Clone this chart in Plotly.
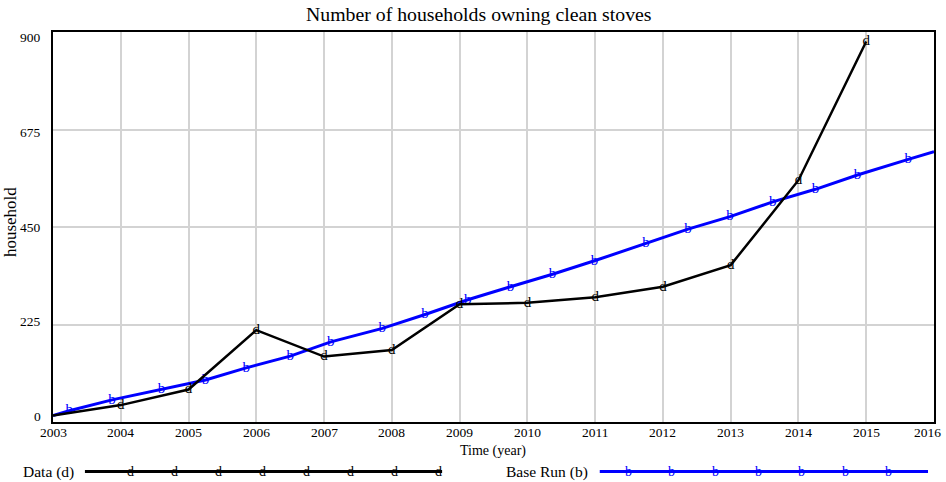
import plotly.graph_objects as go

# ---- data ----
data_years = [2003, 2004, 2005, 2006, 2007, 2008, 2009, 2010, 2011, 2012, 2013, 2014, 2015]
data_values = [15, 39, 75, 212, 151, 166, 272, 275, 288, 312, 362, 558, 878]

base_years = [2003, 2003.24, 2003.87, 2004.6, 2005.25, 2005.85, 2006.5, 2007.1, 2007.86,
              2008.49, 2009.12, 2009.75, 2010.37, 2010.99, 2011.75, 2012.37, 2012.99,
              2013.62, 2014.25, 2014.87, 2015.62, 2016]
base_values = [15, 26, 51, 75, 97, 125, 152, 185, 216, 248, 282, 312, 341, 372, 412,
               445, 474, 508, 537, 570, 606, 624]

x_ticks = list(range(2003, 2017))
y_ticks = [0, 225, 450, 675, 900]

title = "Number of households owning clean stoves"
FONT = "Liberation Serif, Times New Roman, serif"
BLUE = "#0000ff"

fig = go.Figure()

fig.add_trace(go.Scatter(
    x=base_years, y=base_values, mode="lines+text",
    text=[""] + ["b"] * (len(base_years) - 2) + [""],
    textposition="middle center",
    textfont=dict(family=FONT, size=15, color=BLUE),
    line=dict(color=BLUE, width=3), showlegend=False, hoverinfo="skip"))

fig.add_trace(go.Scatter(
    x=data_years, y=data_values, mode="lines+text",
    text=[""] + ["d"] * (len(data_years) - 1),
    textposition="middle center",
    textfont=dict(family=FONT, size=15, color="black"),
    line=dict(color="black", width=2.5), showlegend=False, hoverinfo="skip"))

L, R, T, B = 53, 10, 32, 60
W, H = 946, 482
pw, ph = W - L - R, H - T - B


def px(xp):
    return (xp - L) / pw


def py(yp):
    return (H - B - yp) / ph


shapes = []
annotations = []

# tick labels (drawn as annotations so they can sit like the reference)
for v in x_ticks:
    last = v == x_ticks[-1]
    annotations.append(dict(x=px(945) if last else v, y=py(433),
                            xref="paper" if last else "x", yref="paper", text=str(v),
                            showarrow=False, font=dict(family=FONT, size=13.5, color="black"),
                            xanchor="right" if last else "center", yanchor="middle"))
for v in y_ticks:
    annotations.append(dict(x=px(43), y=py(416 - v / 900 * 378), xref="paper", yref="paper",
                            text=str(v), showarrow=False,
                            font=dict(family=FONT, size=13.5, color="black"),
                            xanchor="right", yanchor="middle"))

# legend
leg_y = py(471.5)
shapes.append(dict(type="line", xref="paper", yref="paper", x0=px(85), x1=px(443),
                   y0=leg_y, y1=leg_y, line=dict(color="black", width=3)))
shapes.append(dict(type="line", xref="paper", yref="paper", x0=px(601), x1=px(930),
                   y0=leg_y, y1=leg_y, line=dict(color=BLUE, width=3)))
for i in range(8):
    annotations.append(dict(x=px(131 + 44 * i), y=leg_y, xref="paper", yref="paper",
                            text="d", showarrow=False,
                            font=dict(family=FONT, size=14, color="black"),
                            xanchor="center", yanchor="middle"))
for i in range(7):
    annotations.append(dict(x=px(630 + 43.4 * i), y=leg_y, xref="paper", yref="paper",
                            text="b", showarrow=False,
                            font=dict(family=FONT, size=14, color=BLUE),
                            xanchor="center", yanchor="middle"))
annotations.append(dict(x=px(21), y=leg_y, xref="paper", yref="paper", text="Data (d)",
                        showarrow=False, font=dict(family=FONT, size=15.5, color="black"),
                        xanchor="left", yanchor="middle"))
annotations.append(dict(x=px(505), y=leg_y, xref="paper", yref="paper", text="Base Run (b)",
                        showarrow=False, font=dict(family=FONT, size=15.5, color="black"),
                        xanchor="left", yanchor="middle"))

# axis titles
annotations.append(dict(x=px(494), y=py(451), xref="paper", yref="paper", text="Time (year)",
                        showarrow=False, font=dict(family=FONT, size=14, color="black"),
                        xanchor="center", yanchor="middle"))
annotations.append(dict(x=px(10), y=py(222), xref="paper", yref="paper", text="household",
                        textangle=-90, showarrow=False,
                        font=dict(family=FONT, size=17, color="black"),
                        xanchor="center", yanchor="middle"))
# title
annotations.append(dict(x=px(480), y=py(14), xref="paper", yref="paper", text=title,
                        showarrow=False, font=dict(family=FONT, size=19.8, color="black"),
                        xanchor="center", yanchor="middle"))

fig.update_layout(
    width=W, height=H,
    margin=dict(l=L, r=R, t=T, b=B),
    paper_bgcolor="white", plot_bgcolor="white",
    font=dict(family=FONT, size=13, color="black"),
    shapes=shapes, annotations=annotations,
    xaxis=dict(range=[2003, 2016], tickvals=x_ticks, showticklabels=False,
               showgrid=True, gridcolor="#d3d3d3", gridwidth=1.5,
               showline=True, linecolor="black", linewidth=2, mirror=True,
               ticks="", zeroline=False),
    yaxis=dict(range=[0, 900], tickvals=y_ticks, showticklabels=False,
               showgrid=True, gridcolor="#d3d3d3", gridwidth=1.5,
               showline=True, linecolor="black", linewidth=2, mirror=True,
               ticks="", zeroline=False),
)

fig.write_html("out.html")
